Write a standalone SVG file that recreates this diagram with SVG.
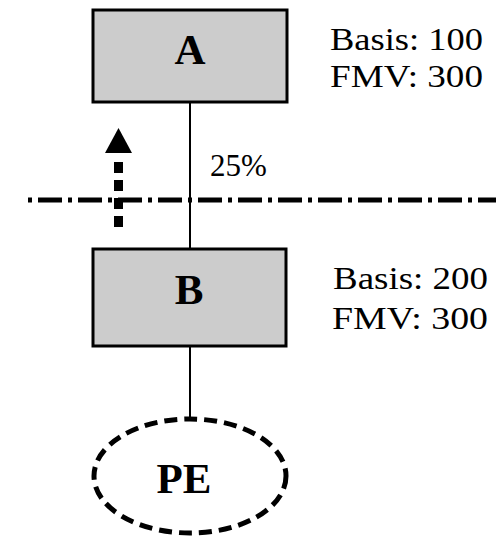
<svg xmlns="http://www.w3.org/2000/svg" width="496" height="541" viewBox="0 0 496 541">
<style>
.box{fill:#cccccc;stroke:#000;stroke-width:3}
.lbl{font-weight:bold;font-size:43px;text-anchor:middle;fill:#000}
.info{font-size:31px;fill:#000}
.ln{stroke:#000;stroke-width:2;fill:none}
</style>
<rect width="496" height="541" fill="#fff"/>
<g id="connectors">
<line class="ln" x1="190" y1="102" x2="190" y2="249"/>
<line class="ln" x1="190" y1="346" x2="190" y2="419"/>
<line x1="28" y1="200" x2="496" y2="200" stroke="#000" stroke-width="5" stroke-dasharray="4 6 24 6"/>
<g id="arrow">
<line x1="118.5" y1="227" x2="118.5" y2="155" stroke="#000" stroke-width="9" stroke-dasharray="11 7"/>
<polygon points="105,153 132,153 118.5,128" fill="#000"/>
</g>
</g>
<g font-family="Liberation Serif, Times New Roman, serif">
<g id="nodeA">
<rect class="box" x="93" y="10" width="194" height="92"/>
<text class="lbl" x="190" y="64">A</text>
</g>
<g id="nodeB">
<rect class="box" x="93" y="249" width="193" height="97"/>
<text class="lbl" x="189" y="304">B</text>
</g>
<g id="nodePE">
<ellipse cx="190" cy="476" rx="96" ry="57" fill="none" stroke="#000" stroke-width="5" stroke-dasharray="13 7"/>
<text class="lbl" x="184" y="493">PE</text>
</g>
<g id="labels">
<text class="info" x="330" y="50" textLength="153" lengthAdjust="spacingAndGlyphs">Basis: 100</text>
<text class="info" x="330" y="87" textLength="153" lengthAdjust="spacingAndGlyphs">FMV: 300</text>
<text class="info" x="333" y="289" textLength="155" lengthAdjust="spacingAndGlyphs">Basis: 200</text>
<text class="info" x="332" y="329" textLength="156" lengthAdjust="spacingAndGlyphs">FMV: 300</text>
<text class="info" x="210" y="176" font-size="32">25%</text>
</g>
</g>
</svg>
